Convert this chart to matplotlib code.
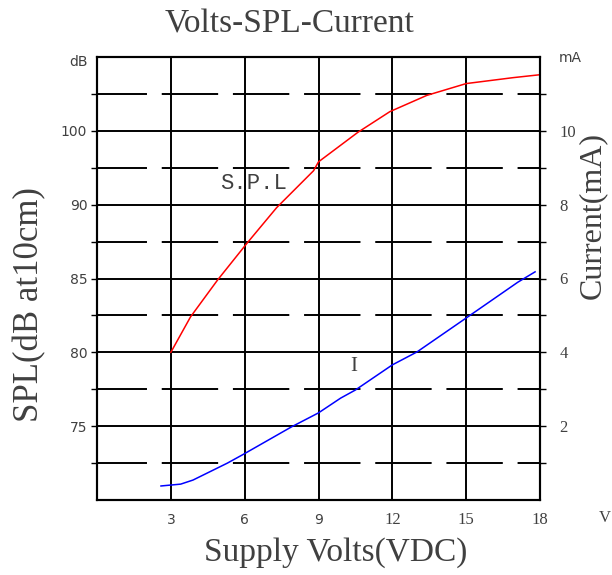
import matplotlib.pyplot as plt

# data
spl_volts = [3.0, 3.8, 4.9, 6.1, 7.3, 8.8, 9.0, 10.6, 11.9, 13.4, 15.0, 16.9, 18.0]
spl_db = [80.0, 82.4, 84.9, 87.4, 89.8, 92.3, 92.9, 94.9, 96.3, 97.4, 98.2, 98.6, 98.8]

cur_volts = [2.6, 3.4, 3.9, 5.3, 5.9, 7.9, 9.0, 9.9, 10.5, 12.0, 13.0, 15.0, 17.1, 17.8]
cur_ma = [0.38, 0.43, 0.54, 1.00, 1.22, 1.98, 2.36, 2.76, 2.98, 3.66, 4.01, 4.93, 5.90, 6.18]

x_ticks = [3, 6, 9, 12, 15, 18]
left_ticks = [75, 80, 85, 90, 95]
left_labels = ['75', '80', '85', '90', '100']
right_ticks = [2, 4, 6, 8, 10]

grey = '#404040'
serif = 'Liberation Serif'

fig = plt.figure(figsize=(6.12, 5.75), dpi=100)
ax = fig.add_axes([97 / 612, 75 / 575, 443 / 612, 443 / 575])
ax.set_xlim(0, 18)
ax.set_ylim(70, 100)

# grid
for v in x_ticks[:-1]:
    ax.axvline(v, color='black', lw=1.4, zorder=1)
for y in left_ticks:
    ax.axhline(y, color='black', lw=1.4, zorder=1)
for y in [72.5, 77.5, 82.5, 87.5, 92.5, 97.5]:
    ax.axhline(y, color='black', lw=1.4, zorder=1,
               linestyle=(3.3, (29.0, 7.6)))

ax.plot(spl_volts, spl_db, color='red', lw=1.1, zorder=3)

for s in ax.spines.values():
    s.set_linewidth(1.5)

ax.set_xticks(x_ticks)
ax.set_xticklabels([str(v) for v in x_ticks], fontsize=10, color=grey)
for i, lab in enumerate(ax.get_xticklabels()):
    lab.set_family('DejaVu Sans' if i < 3 else serif)
    if i >= 3:
        lab.set_fontsize(12)
ax.tick_params(axis='x', length=0, pad=9)

ax.set_yticks(left_ticks)
ax.set_yticklabels(left_labels, fontsize=10, color=grey, family='DejaVu Sans')
ax.set_yticks([72.5, 77.5, 82.5, 87.5, 92.5, 97.5], minor=True)
ax.tick_params(axis='y', which='both', direction='out', length=4, width=1, pad=3)

ax2 = ax.twinx()
ax2.set_ylim(0, 12)
ax2.plot(cur_volts, cur_ma, color='blue', lw=1.1, zorder=3)
ax2.set_yticks(right_ticks)
ax2.set_yticklabels([str(v) for v in right_ticks], fontsize=12, color=grey, family=serif)
ax2.set_yticks([1, 3, 5, 7, 9, 11], minor=True)
ax2.tick_params(axis='y', which='both', direction='out', length=4, width=1, pad=10)
for s in ax2.spines.values():
    s.set_linewidth(1.5)

# annotations
ax.text(5.0, 91.4, 'S.P.L', fontsize=16, color=grey, family='Liberation Mono', va='center')
ax2.text(10.3, 3.5, 'I', fontsize=15, color=grey, family=serif)

fig.text(78 / 612, 1 - 62 / 575, 'dB', fontsize=10, color=grey, ha='center', va='center')
fig.text(570 / 612, 1 - 58 / 575, 'mA', fontsize=10, color=grey, ha='center', va='center')
fig.text(605 / 612, 1 - 518 / 575, 'V', fontsize=12, color=grey, family=serif,
         ha='center', va='center')

fig.text(290 / 612, 1 - 24 / 575, 'Volts-SPL-Current', fontsize=24, color=grey,
         family=serif, ha='center', va='center')
fig.text(336 / 612, 1 - 553 / 575, 'Supply Volts(VDC)', fontsize=24, color=grey,
         family=serif, ha='center', va='center')
fig.text(30 / 612, 1 - 305 / 575, 'SPL(dB at10cm)', fontsize=25, color=grey,
         family=serif, ha='center', va='center', rotation=90)
fig.text(592 / 612, 1 - 215 / 575, 'Current(mA)', fontsize=23, color=grey,
         family=serif, ha='center', va='center', rotation=90)

fig.savefig('out.png', dpi=100)
